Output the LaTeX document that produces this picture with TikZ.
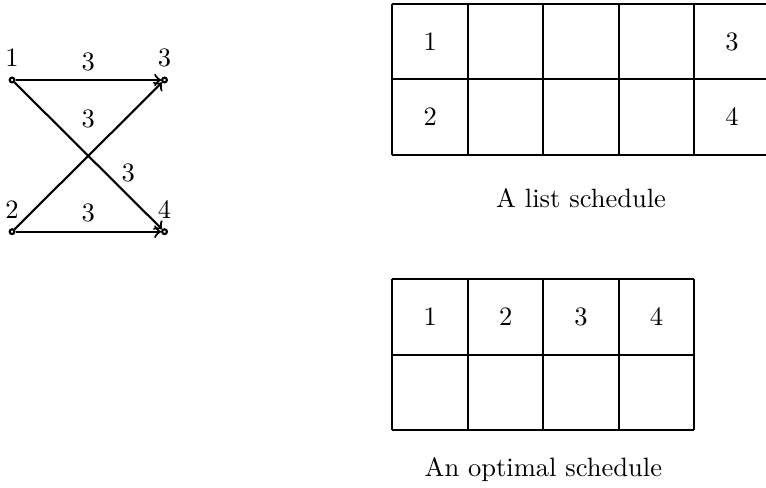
\documentclass[tikz,border=0pt]{standalone}
\usepackage{amsmath, amssymb}
\usepackage{xcolor}
\usepackage{tikz}

\tikzset{vert/.style={circle, draw, inner sep=0pt, minimum size=1.8pt}}

\begin{document}
\begin{tikzpicture}[>=to, thick]
\useasboundingbox (0,0) rectangle (10.15,6.46);
% the graph
\node[vert, label=above:$1$] (n1) at (0.16,5.40) {};
\node[vert, label=above:$3$] (n3) at (2.18,5.40) {};
\node[vert, label=above:$2$] (n2) at (0.16,3.39) {};
\node[vert, label=above:$4$] (n4) at (2.18,3.39) {};
\draw[->] (n1) -- node[above] {$3$} (n3);
\draw[->] (n2) -- node[above] {$3$} (n4);
\draw[->] (n2) -- node[above=7pt] {$3$} (n3);
\draw[->] (n1) -- node[pos=0.7, above right, inner sep=1pt] {$3$} (n4);
% list schedule
\begin{scope}[shift={(5.2,4.41)}]
\draw (0,0) grid (5,2);
\foreach \n/\x/\y in {1/0/1, 3/4/1, 2/0/0, 4/4/0}{
    \node (l\n) at (\x+0.5,\y+0.5) {$\n$};
}
\node (listcap) at (2.5,-0.58) {A list schedule};
\end{scope}
% optimal schedule
\begin{scope}[shift={(5.2,0.76)}]
\draw (0,0) grid (4,2);
\foreach \n in {1,2,3,4}{
    \node (o\n) at (\n-0.5,1.5) {$\n$};
}
\node (optcap) at (2,-0.52) {An optimal schedule};
\end{scope}
\end{tikzpicture}
\end{document}
